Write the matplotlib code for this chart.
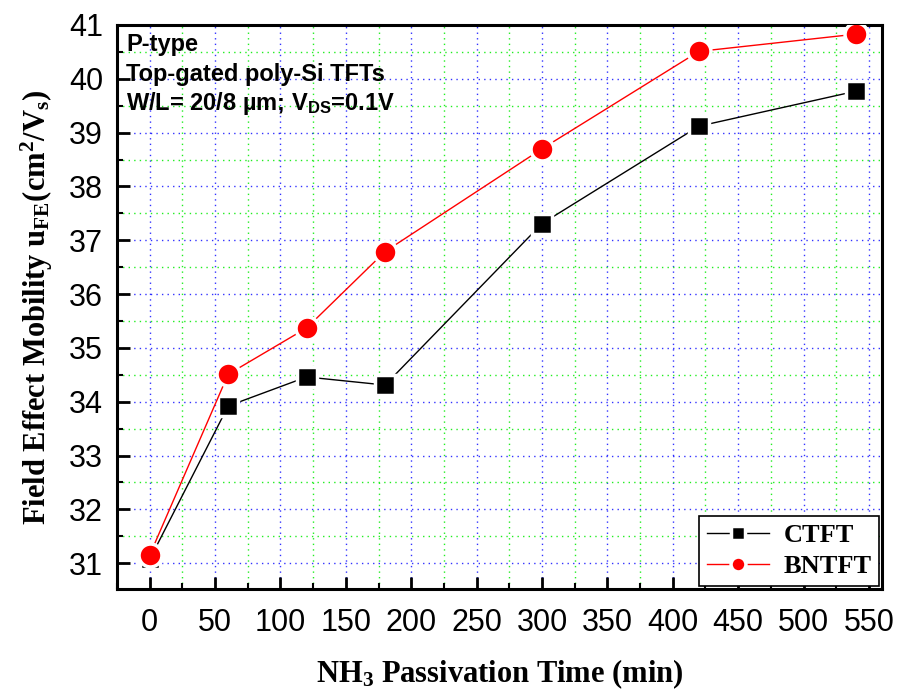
import matplotlib
matplotlib.use("Agg")
import matplotlib.pyplot as plt
from matplotlib.ticker import MultipleLocator

plt.rcParams['mathtext.fontset'] = 'custom'
plt.rcParams['mathtext.rm'] = 'Liberation Serif:bold'
plt.rcParams['mathtext.it'] = 'Liberation Serif:bold'
plt.rcParams['mathtext.bf'] = 'Liberation Serif:bold'
plt.rcParams['mathtext.sf'] = 'Liberation Sans:bold'

time_min = [0, 60, 120, 180, 300, 420, 540]
ctft = [31.07, 33.92, 34.46, 34.31, 37.31, 39.12, 39.77]
bntft = [31.15, 34.51, 35.37, 36.79, 38.70, 40.51, 40.83]
xticks = [0, 50, 100, 150, 200, 250, 300, 350, 400, 450, 500, 550]
yticks = [31, 32, 33, 34, 35, 36, 37, 38, 39, 40, 41]

fig = plt.figure(figsize=(8.99, 6.96), dpi=100)
ax = fig.add_axes([117/899, 1-589/696, (882-117)/899, (589-25)/696])

ax.set_xlim(-25, 560)
ax.set_ylim(30.52, 41.0)
ax.set_xticks(xticks)
ax.set_yticks(yticks)
ax.xaxis.set_minor_locator(MultipleLocator(25))
ax.yaxis.set_minor_locator(MultipleLocator(0.5))

ax.grid(which='major', color='blue', linestyle=(0, (1, 3)), linewidth=1.0, alpha=0.8)
ax.grid(which='minor', color='#22ee22', linestyle=(0, (1, 3)), linewidth=1.0)
ax.set_axisbelow(True)

ax.plot(time_min, ctft, color='black', linewidth=1.0, marker='s', markersize=15,
        markerfacecolor='black', markeredgecolor='white', markeredgewidth=2.5, label='CTFT', zorder=3)
ax.plot(time_min, bntft, color='red', linewidth=1.0, marker='o', markersize=16.5,
        markerfacecolor='red', markeredgecolor='white', markeredgewidth=2.5, label='BNTFT', zorder=4)

ax.tick_params(which='major', direction='in', length=9, width=2.0, top=False, right=False)
ax.tick_params(which='minor', direction='in', length=4.5, width=1.5, top=False, right=False)
ax.tick_params(axis='y', which='major', pad=10)
ax.tick_params(axis='x', which='major', pad=14)
for lab in ax.get_xticklabels() + ax.get_yticklabels():
    lab.set_fontfamily('Liberation Sans')
    lab.set_fontsize(22)

for sp in ax.spines.values():
    sp.set_linewidth(2.2)

ax.set_xlabel(r'NH$_3$ Passivation Time (min)', fontfamily='Liberation Serif',
              fontweight='bold', fontsize=22, labelpad=14)
ax.set_ylabel(r'Field Effect Mobility u$_{\mathrm{FE}}$(cm$^2$/V$_s$)', fontfamily='Liberation Serif',
              fontweight='bold', fontsize=22, labelpad=10)

txt = dict(fontfamily='Liberation Sans', fontweight='bold', fontsize=17, transform=ax.transAxes, va='center')
ax.text(0.012, 0.965, 'P-type', **txt)
ax.text(0.012, 0.913, 'Top-gated poly-Si TFTs', **txt)
ax.text(0.012, 0.860, r'W/L= 20/8 µm; V$_{\mathsf{DS}}$=0.1V', **txt)

leg = ax.legend(loc='lower right', prop={'family': 'Liberation Serif', 'weight': 'bold', 'size': 19},
                frameon=True, fancybox=False, edgecolor='black', framealpha=1.0,
                handlelength=2.35, handletextpad=0.55, borderpad=0.3, labelspacing=0.3,
                borderaxespad=0.1, markerscale=0.65)
leg.get_frame().set_linewidth(1.2)

fig.savefig('out.png', dpi=100)
